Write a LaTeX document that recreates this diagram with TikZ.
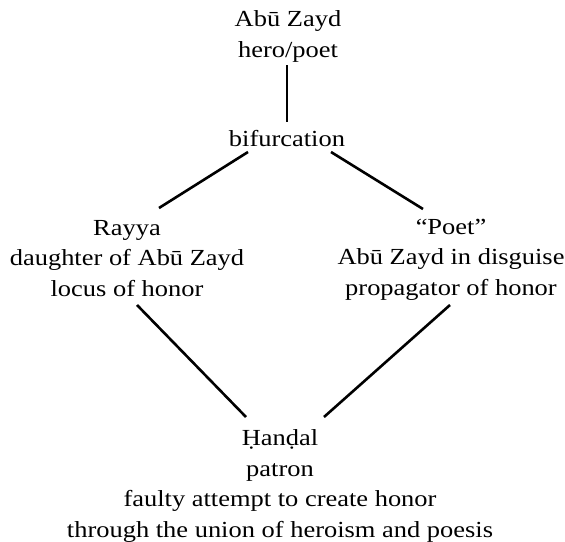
\documentclass[tikz,border=0pt]{standalone}
\usepackage{fontspec}
\setmainfont{Liberation Serif}[FakeStretch=1.15]
\begin{document}
\begin{tikzpicture}[x=1pt,y=-1pt,
  txt/.style={align=center,anchor=base,inner sep=0pt,
    font=\fontsize{23}{30.5}\selectfont},
  conn/.style={draw=black,line width=2.6pt}]
\useasboundingbox (0,0) rectangle (565,541);
\node[txt] (top) at (288,57) {Abū Zayd\\hero/poet};
\node[txt] (bif) at (287,146) {bifurcation};
\node[txt] (rayya) at (127,296) {Rayya\\daughter of Abū Zayd\\locus of honor};
\node[txt] (poet) at (451,295) {“Poet”\\Abū Zayd in disguise\\propagator of honor};
\node[txt] (handal) at (280,537) {Ḥanḍal\\patron\\faulty attempt to create honor\\through the union of heroism and poesis};
\draw[conn] ([shift={(-1,8)}]top.base) -- ([shift={(0,-24)}]bif.base);
\draw[conn] ([shift={(-39,6)}]bif.base) -- ([shift={(32,-88)}]rayya.base);
\draw[conn] ([shift={(44,6)}]bif.base) -- ([shift={(-28,-86)}]poet.base);
\draw[conn] ([shift={(10,9)}]rayya.base) -- ([shift={(-34,-120)}]handal.base);
\draw[conn] ([shift={(-1,10)}]poet.base) -- ([shift={(44,-120)}]handal.base);
\end{tikzpicture}
\end{document}
